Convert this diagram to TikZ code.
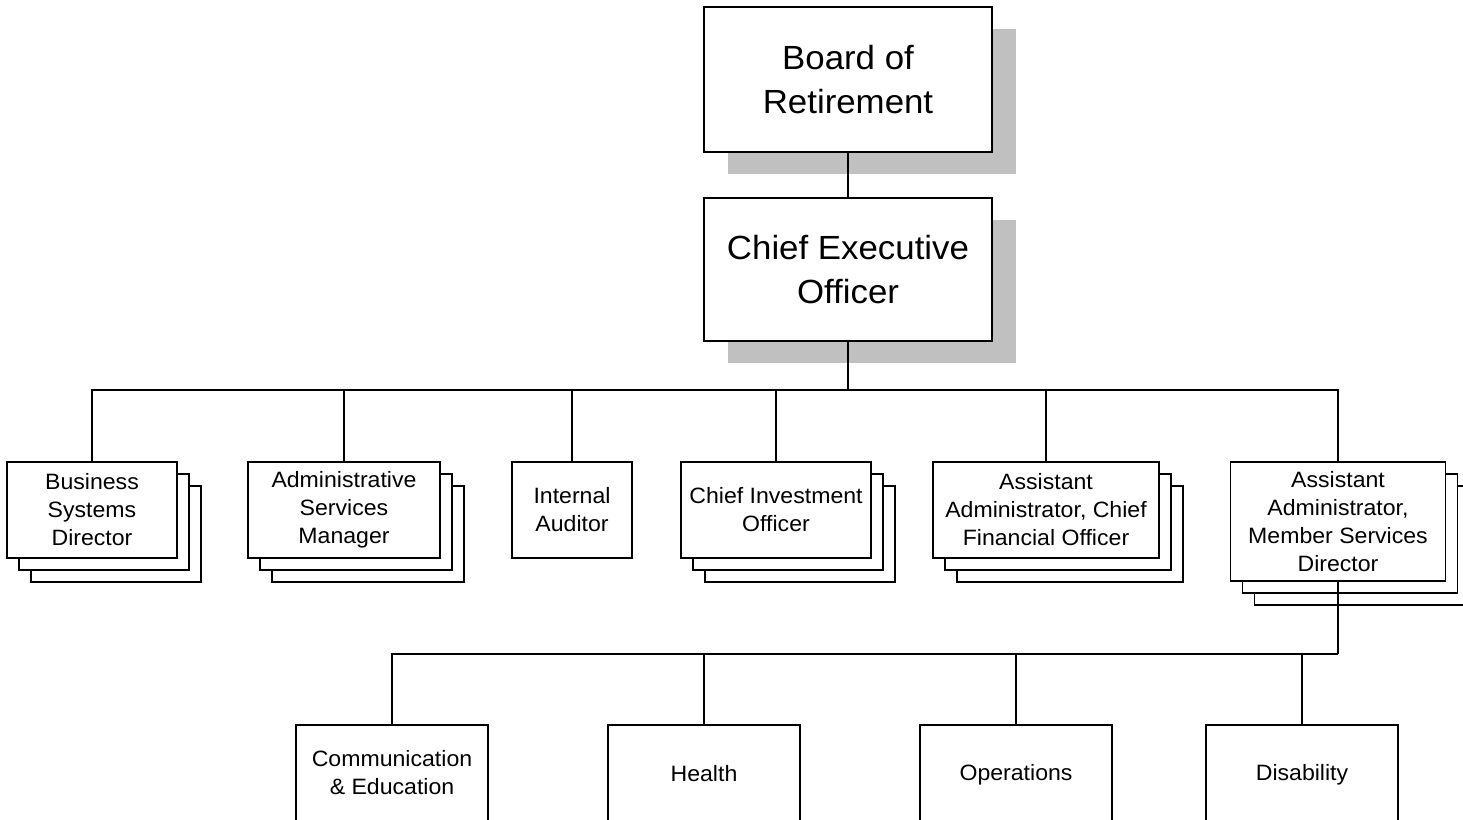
\documentclass[tikz,border=0pt]{standalone}
\usepackage{fontspec}
\setmainfont{Liberation Sans}[FakeStretch=1.04]
\usetikzlibrary{shadows}
\definecolor{shadegray}{RGB}{192,192,192}
\begin{document}
\begin{tikzpicture}[x=1pt,y=-1pt,line width=1.3pt,
  box/.style={draw=black,fill=white,align=center,inner sep=2pt},
  topbox/.style={box,minimum width=288pt,minimum height=145pt,
    font=\fontsize{33.5}{44}\selectfont,
    general shadow={shadow xshift=24pt,shadow yshift=-22pt,fill=shadegray,draw=none}},
  unitbox/.style={box,minimum height=96pt,font=\fontsize{22.2}{28}\selectfont},
  stacked/.style={unitbox,
    copy shadow={shadow xshift=24pt,shadow yshift=-24pt,draw=black,fill=white},
    copy shadow={shadow xshift=12pt,shadow yshift=-12pt,draw=black,fill=white}},
  teambox/.style={box,minimum width=192pt,minimum height=100pt,
    font=\fontsize{22.2}{28}\selectfont},
  link/.style={draw=black,line width=1.3pt}
]
\useasboundingbox (0,0) rectangle (1463,819);
\clip (0,0) rectangle (1463,819);

% governing level
\node[topbox] (board) at (848,79.5) {Board of\\Retirement};
\node[topbox,minimum height=143pt] (ceo) at (848,269.5) {Chief Executive\\Officer};

% reporting units
\node[stacked,minimum width=170pt] (bsd) at (92,510) {Business\\Systems\\Director};
\node[stacked,minimum width=192pt] (asm) at (344,510) {Administrative\\Services\\Manager};
\node[unitbox,minimum width=120pt] (ia) at (572,510) {Internal\\Auditor};
\node[stacked,minimum width=190pt] (cio) at (776,510) {Chief Investment\\Officer};
\node[stacked,minimum width=226pt] (cfo) at (1046,510) {Assistant\\Administrator, Chief\\Financial Officer};
\node[stacked,minimum width=215pt,minimum height=119pt] (msd) at (1338,521.5)
  {Assistant\\Administrator,\\Member Services\\Director};

% member services divisions
\node[teambox] (comm) at (392,775) {\raisebox{4pt}{\begin{tabular}{@{}c@{}}Communication\\\& Education\end{tabular}}};
\node[teambox] (health) at (704,775) {\raisebox{4pt}{Health}};
\node[teambox] (ops) at (1016,775) {\raisebox{4pt}{Operations}};
\node[teambox] (dis) at (1302,775) {\raisebox{4pt}{Disability}};

% connectors
\coordinate (busA) at (848,390);
\coordinate (busB) at (1338,654);
\draw[link] (board.south) -- (ceo.north);
\draw[link] (ceo.south) -- (busA);
\foreach \n in {bsd,asm,ia,cio,cfo,msd}
  \draw[link] (busA) -| (\n.north);
\draw[link] (msd.south) -- (busB);
\foreach \n in {comm,health,ops,dis}
  \draw[link] (busB) -| (\n.north);
\end{tikzpicture}
\end{document}
